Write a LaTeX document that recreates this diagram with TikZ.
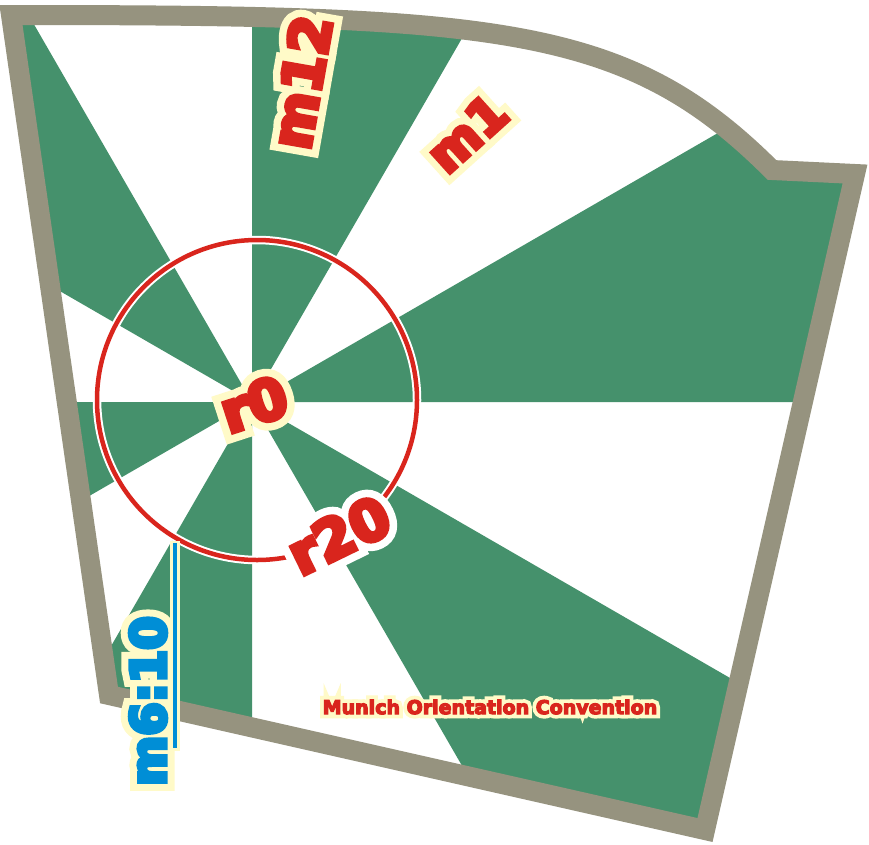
\documentclass[tikz,border=0pt]{standalone}
\usepackage{fontspec}
\setmainfont{DejaVu Sans}
\newfontface\mainA{DejaVu Sans Bold}[FakeBold=8]
\newfontface\haloA{DejaVu Sans Bold}[FakeBold=35]
\newfontface\mainB{DejaVu Sans Bold}[FakeBold=9]
\newfontface\haloB{DejaVu Sans Bold}[FakeBold=38]
\newfontface\mainC{DejaVu Sans Bold}[FakeBold=6]
\newfontface\haloC{DejaVu Sans Bold}[FakeBold=45]
\definecolor{frameC}{RGB}{150,147,127}
\definecolor{greenC}{RGB}{69,145,108}
\definecolor{redC}{RGB}{217,37,29}
\definecolor{haloY}{RGB}{255,250,200}
\definecolor{blueC}{RGB}{0,142,214}
\tikzset{
  lbl/.style={inner sep=0pt, outer sep=0pt},
  framestyle/.style={draw=frameC, line width=20pt, line join=miter},
  sector/.style={fill=greenC},
}
% #1 name, #2 position, #3 rotation, #4 size, #5 halo face, #6 halo colour, #7 text colour, #8 text face, #9 text
\newcommand\halolabel[9]{%
  \node[lbl, rotate=#3, text=#6, font=\fontsize{#4pt}{#4pt}#5] (#1-halo) at #2 {#9};
  \node[lbl, rotate=#3, text=#7, font=\fontsize{#4pt}{#4pt}#8] (#1) at #2 {#9};}
\begin{document}
\begin{tikzpicture}[x=1pt,y=-1pt]
\fill[white] (0,0) rectangle (869,844);
\useasboundingbox (0,0) rectangle (869,844);
% frame corners
\coordinate (n)  at (772,170);
\coordinate (tl) at (11,15);
\coordinate (bl) at (109,695);
\coordinate (br) at (705,830);
\coordinate (tr) at (855,174);
\coordinate (O)  at (252,402);
% green sectors
\begin{scope}
  \clip (n) .. controls (627,25) and (499,15) .. (tl) -- (bl) -- (br) -- (tr) -- cycle;
  \foreach \a in {0,60,...,300}
    \fill[sector] (O) -- ({252+1200*cos(\a)},{402-1200*sin(\a)})
                      -- ({252+1200*cos(\a+30)},{402-1200*sin(\a+30)}) -- cycle;
\end{scope}
% frame
\draw[framestyle] (n) .. controls (627,25) and (499,15) .. (tl) -- (bl) -- (br) -- (tr) -- cycle;
% red ring
\node[circle, minimum size=320pt, inner sep=0pt, draw=redC, line width=4.5pt,
      preaction={draw=white, line width=8.5pt}] (ring) at (257,400) {};
% labels
\halolabel{m12}{(301,82)}{80}{55}{\haloA}{haloY}{redC}{\mainA}{m12}
\halolabel{m1}{(467,133)}{42}{50}{\haloA}{haloY}{redC}{\mainA}{m1}
\halolabel{r0}{(254,404)}{18}{56}{\haloA}{haloY}{redC}{\mainA}{r0}
\halolabel{r20}{(339,535)}{26}{56}{\haloA}{white}{redC}{\mainA}{r20}
\halolabel{m610}{(148,701)}{90}{48}{\haloB}{haloY}{blueC}{\mainB}{m6:10}
\halolabel{moc}{(490,707)}{0}{19}{\haloC}{haloY}{redC}{\mainC}{Munich Orientation Convention}
% blue marker line
\coordinate (d1) at (175,543);
\coordinate (d2) at (175,748);
\draw[haloY, line width=10pt, shorten <=-2pt, shorten >=-3pt] (d1) -- (d2);
\draw[blueC, line width=3.5pt] (d1) -- (d2);
\end{tikzpicture}
\end{document}
